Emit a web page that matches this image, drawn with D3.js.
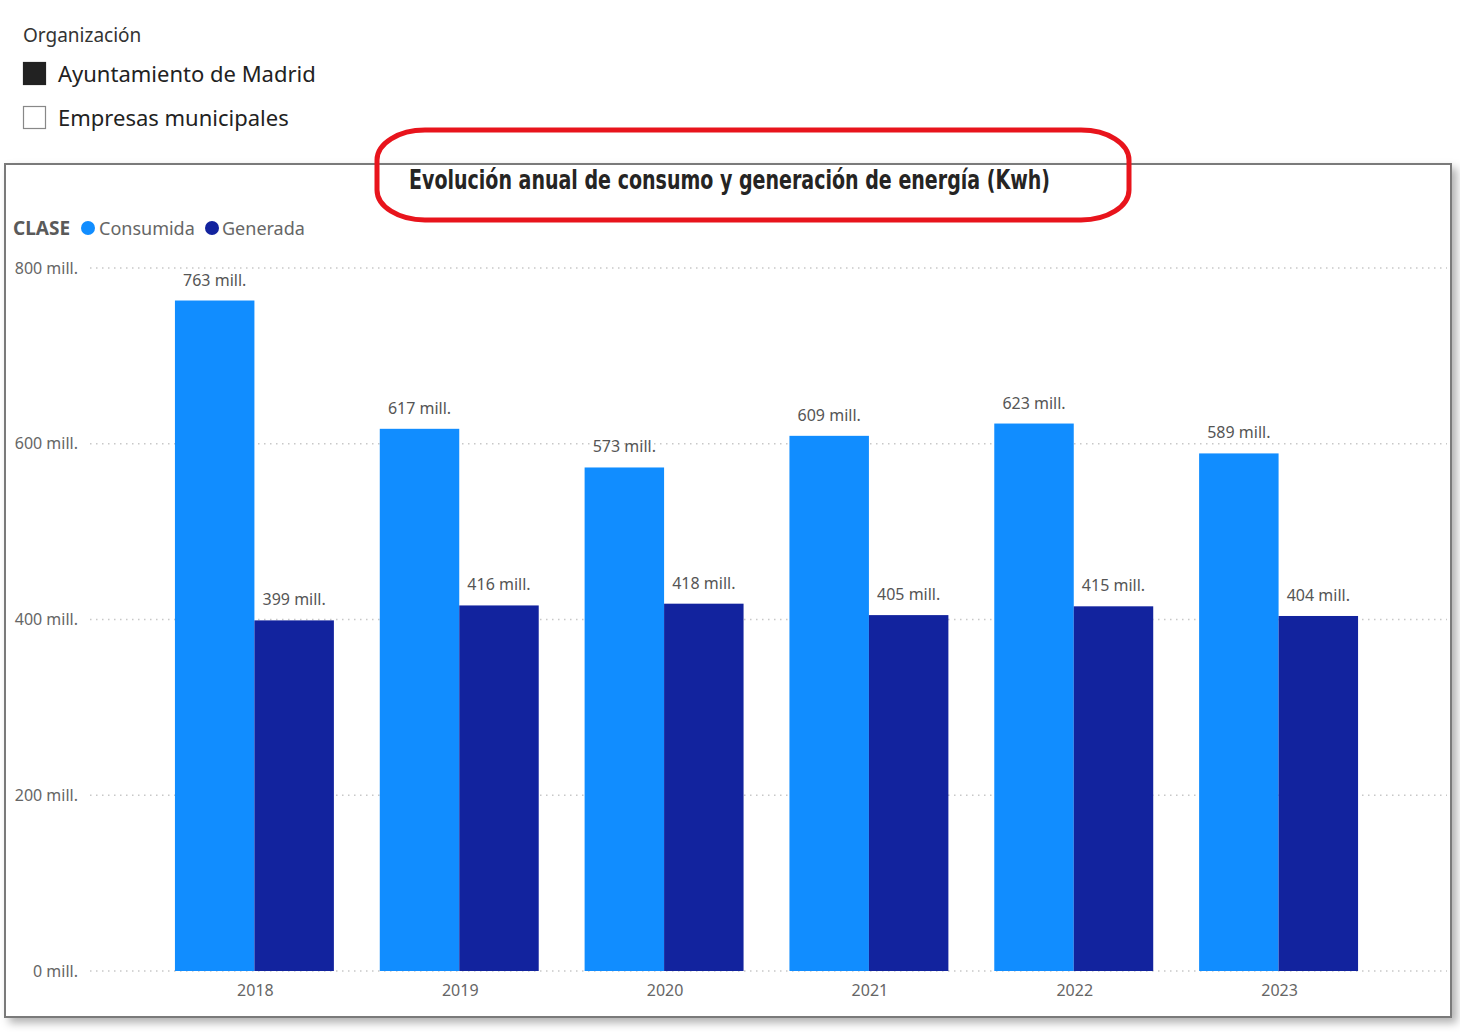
<!DOCTYPE html>
<html>
<head>
<meta charset="utf-8">
<script src="https://d3js.org/d3.v7.min.js"></script>
<style>
  body { margin: 0; background: #fff; }
  svg { display: block; }
</style>
</head>
<body>
<svg id="chart"></svg>
<script>
// Data
const years = ['2018', '2019', '2020', '2021', '2022', '2023'];
const consumida = [763, 617, 573, 609, 623, 589];
const generada = [399, 416, 418, 405, 415, 404];
const series = ['Consumida', 'Generada'];
const yTicks = [0, 200, 400, 600, 800];
const orgs = ['Ayuntamiento de Madrid', 'Empresas municipales'];

// Colors
const colors = {
  Consumida: '#118DFF',
  Generada: '#12239E',
  grid: '#c8c8c8',
  label: '#666',
  frame: '#7a7a7a',
  red: '#e8141c'
};

const width = 1460;
const height = 1032;
const font = '"Segoe UI", "Noto Sans", "Open Sans", sans-serif';

const svg = d3.select('#chart')
  .attr('width', width)
  .attr('height', height)
  .style('font-family', font);

const defs = svg.append('defs');
const shadow = defs.append('filter')
  .attr('id', 'shadow')
  .attr('x', '-5%').attr('y', '-5%')
  .attr('width', '110%').attr('height', '110%');
shadow.append('feDropShadow')
  .attr('dx', 5).attr('dy', 5)
  .attr('stdDeviation', 4)
  .attr('flood-color', '#000')
  .attr('flood-opacity', 0.3);

// Slicer legend (top left)
svg.append('text')
  .attr('x', 23).attr('y', 42)
  .attr('font-size', 19)
  .attr('fill', '#333')
  .text('Organización');

const org = svg.append('g').selectAll('g')
  .data(orgs)
  .enter()
  .append('g')
  .attr('transform', (d, i) => `translate(23, ${62 + i * 44})`);

org.append('rect')
  .attr('x', 0.5).attr('y', 0.5)
  .attr('width', 22).attr('height', 22)
  .attr('fill', (d, i) => i === 0 ? '#222' : '#fff')
  .attr('stroke', (d, i) => i === 0 ? '#222' : '#888')
  .attr('stroke-width', 1.2);

org.append('text')
  .attr('x', 35).attr('y', 20)
  .attr('font-size', 22)
  .attr('fill', '#222')
  .text(d => d);

// Visual frame
svg.append('rect')
  .attr('x', 5).attr('y', 164)
  .attr('width', 1446).attr('height', 853)
  .attr('fill', '#fff')
  .attr('stroke', colors.frame)
  .attr('stroke-width', 2)
  .attr('filter', 'url(#shadow)');

// Scales
const x = d3.scaleBand()
  .domain(years)
  .range([152, 1381])
  .paddingInner(0.224)
  .paddingOuter(0.112);

const x1 = d3.scaleBand()
  .domain(series)
  .range([0, x.bandwidth()]);

const y = d3.scaleLinear()
  .domain([0, 800])
  .range([971, 268]);

// Gridlines
svg.append('g')
  .selectAll('line')
  .data(yTicks)
  .enter()
  .append('line')
  .attr('x1', 90).attr('x2', 1447)
  .attr('y1', d => y(d)).attr('y2', d => y(d))
  .attr('stroke', colors.grid)
  .attr('stroke-width', 1.5)
  .attr('stroke-dasharray', '1.5,4.5');

// Y axis labels
const yAxis = svg.append('g')
  .attr('transform', 'translate(78, 0)')
  .call(d3.axisLeft(y).tickValues(yTicks).tickSize(0).tickPadding(0)
    .tickFormat(d => `${d} mill.`));
yAxis.select('.domain').remove();
yAxis.selectAll('text')
  .attr('font-family', font)
  .attr('font-size', 16)
  .attr('fill', colors.label)
  .attr('dy', '0.32em');

// X axis labels
const xAxis = svg.append('g')
  .attr('transform', 'translate(1, 980)')
  .call(d3.axisBottom(x).tickSize(0).tickPadding(0));
xAxis.select('.domain').remove();
xAxis.selectAll('text')
  .attr('font-family', font)
  .attr('font-size', 16)
  .attr('fill', colors.label)
  .attr('dy', '1em');

// Bars
const rows = years.map((yr, i) => ({
  year: yr,
  values: [
    { key: 'Consumida', value: consumida[i] },
    { key: 'Generada', value: generada[i] }
  ]
}));

const groups = svg.append('g')
  .selectAll('g')
  .data(rows)
  .enter()
  .append('g')
  .attr('transform', d => `translate(${x(d.year)}, 0)`);

groups.selectAll('rect')
  .data(d => d.values)
  .enter()
  .append('rect')
  .attr('x', d => x1(d.key))
  .attr('y', d => y(d.value))
  .attr('width', x1.bandwidth())
  .attr('height', d => y(0) - y(d.value))
  .attr('fill', d => colors[d.key]);

groups.selectAll('text')
  .data(d => d.values)
  .enter()
  .append('text')
  .attr('x', d => x1(d.key) + x1.bandwidth() / 2)
  .attr('y', d => y(d.value) - 15)
  .attr('text-anchor', 'middle')
  .attr('font-size', 16)
  .attr('fill', '#555')
  .text(d => `${d.value} mill.`);

// Series legend
const legend = svg.append('g').attr('transform', 'translate(13, 228)');
legend.append('text')
  .attr('x', 0).attr('y', 7)
  .attr('font-size', 19)
  .attr('font-weight', 'bold')
  .attr('fill', '#5a5a5a')
  .text('CLASE');

const legendPos = [{ cx: 75, tx: 86 }, { cx: 199, tx: 209 }];
series.forEach((s, i) => {
  legend.append('circle')
    .attr('cx', legendPos[i].cx).attr('cy', 0)
    .attr('r', 7)
    .attr('fill', colors[s]);
  legend.append('text')
    .attr('x', legendPos[i].tx).attr('y', 7)
    .attr('font-size', 18)
    .attr('fill', '#666')
    .text(s);
});

// Title
svg.append('text')
  .attr('x', 409).attr('y', 189)
  .attr('font-family', '"Liberation Sans Narrow", "DejaVu Sans Condensed", sans-serif')
  .attr('font-size', 26)
  .attr('font-weight', 'bold')
  .attr('fill', '#252423')
  .attr('textLength', 641)
  .attr('lengthAdjust', 'spacingAndGlyphs')
  .text('Evolución anual de consumo y generación de energía (Kwh)');

// Red annotation around the title
svg.append('rect')
  .attr('x', 377).attr('y', 130)
  .attr('width', 752).attr('height', 90)
  .attr('rx', 48).attr('ry', 30)
  .attr('fill', 'none')
  .attr('stroke', colors.red)
  .attr('stroke-width', 5);
</script>
</body>
</html>
